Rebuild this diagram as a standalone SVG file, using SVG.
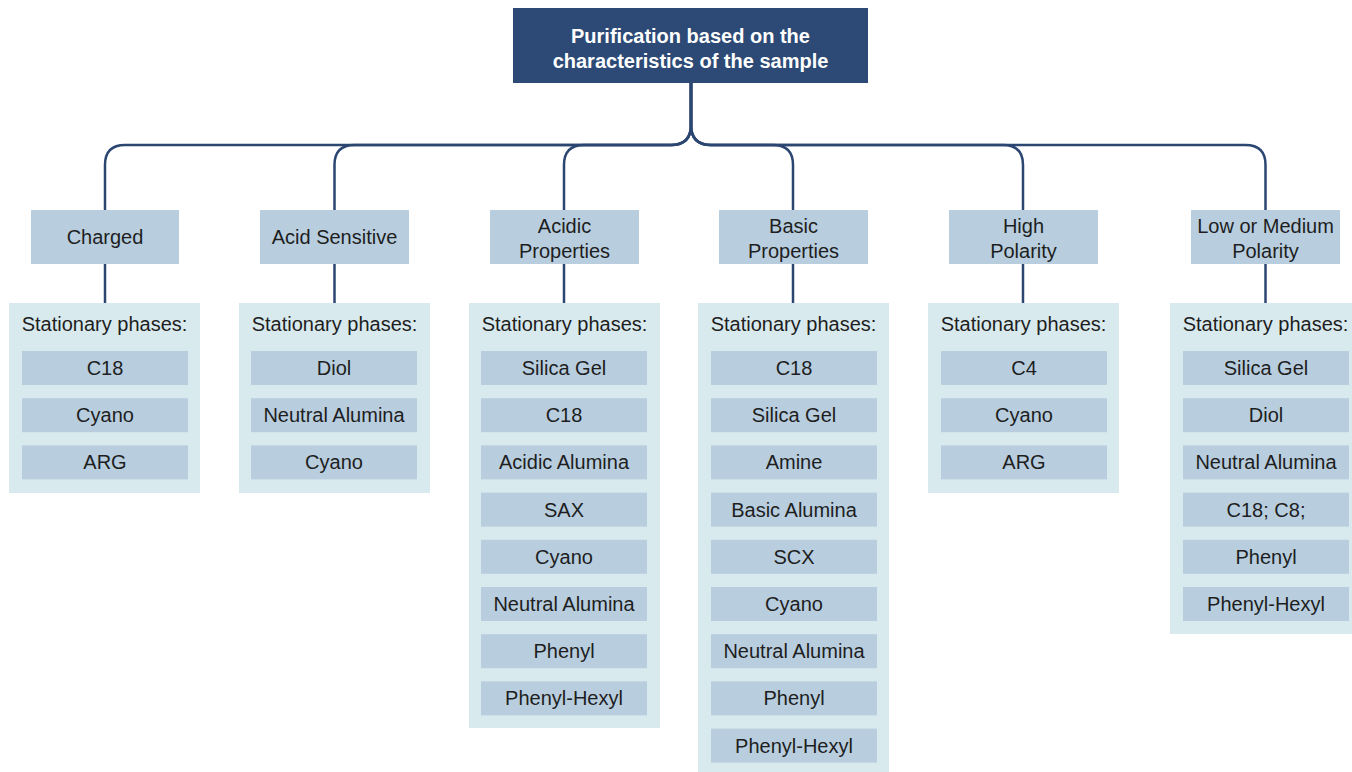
<svg xmlns="http://www.w3.org/2000/svg" width="1352" height="772" viewBox="0 0 1352 772">
<style>
.top{fill:#2c4a75}
.cat{fill:#b8cedf}
.panel{fill:#d9eaee}
.item{fill:#b8cedf}
text{font-family:"Liberation Sans",Arial,sans-serif;font-size:20px;fill:#1e1e1e;text-anchor:middle}
.tt{fill:#ffffff;font-weight:bold}
.conn path{fill:none;stroke:#2c4672;stroke-width:2.5}
</style>
<rect width="1352" height="772" fill="#ffffff"/>
<g class="conn" id="connectors">
<path d="M691 83 V125 Q691 145 671 145 H125 Q105 145 105 165 V210"/>
<path d="M691 83 V125 Q691 145 671 145 H354.5 Q334.5 145 334.5 165 V210"/>
<path d="M691 83 V125 Q691 145 671 145 H584 Q564 145 564 165 V210"/>
<path d="M691 83 V125 Q691 145 711 145 H773 Q793 145 793 165 V210"/>
<path d="M691 83 V125 Q691 145 711 145 H1003 Q1023 145 1023 165 V210"/>
<path d="M691 83 V125 Q691 145 711 145 H1245.5 Q1265.5 145 1265.5 165 V210"/>
<path d="M105 264 V303"/>
<path d="M334.5 264 V303"/>
<path d="M564 264 V303"/>
<path d="M793 264 V303"/>
<path d="M1023 264 V303"/>
<path d="M1265.5 264 V303"/>
</g>
<g id="root">
<rect class="top" x="513" y="8" width="355" height="75"/>
<text class="tt" x="690.5" y="43">Purification based on the</text>
<text class="tt" x="690.5" y="68">characteristics of the sample</text>
</g>
<g id="charged">
<rect class="cat" x="31" y="210" width="148" height="54"/>
<text x="105" y="244">Charged</text>
</g>
<g id="charged-phases">
<rect class="panel" x="9" y="303" width="191" height="190"/>
<text x="104.5" y="331">Stationary phases:</text>
<rect class="item" x="22" y="351" width="166" height="34"/><text x="105" y="375">C18</text>
<rect class="item" x="22" y="398.2" width="166" height="34"/><text x="105" y="422.2">Cyano</text>
<rect class="item" x="22" y="445.4" width="166" height="34"/><text x="105" y="469.4">ARG</text>
</g>
<g id="acid-sensitive">
<rect class="cat" x="260" y="210" width="149" height="54"/>
<text x="334.5" y="244">Acid Sensitive</text>
</g>
<g id="acid-sensitive-phases">
<rect class="panel" x="239" y="303" width="191" height="190"/>
<text x="334.5" y="331">Stationary phases:</text>
<rect class="item" x="251" y="351" width="166" height="34"/><text x="334" y="375">Diol</text>
<rect class="item" x="251" y="398.2" width="166" height="34"/><text x="334" y="422.2">Neutral Alumina</text>
<rect class="item" x="251" y="445.4" width="166" height="34"/><text x="334" y="469.4">Cyano</text>
</g>
<g id="acidic">
<rect class="cat" x="490" y="210" width="149" height="54"/>
<text x="564.5" y="233">Acidic</text>
<text x="564.5" y="258">Properties</text>
</g>
<g id="acidic-phases">
<rect class="panel" x="469" y="303" width="191" height="425"/>
<text x="564.5" y="331">Stationary phases:</text>
<rect class="item" x="481" y="351" width="166" height="34"/><text x="564" y="375">Silica Gel</text>
<rect class="item" x="481" y="398.2" width="166" height="34"/><text x="564" y="422.2">C18</text>
<rect class="item" x="481" y="445.4" width="166" height="34"/><text x="564" y="469.4">Acidic Alumina</text>
<rect class="item" x="481" y="492.6" width="166" height="34"/><text x="564" y="516.6">SAX</text>
<rect class="item" x="481" y="539.8" width="166" height="34"/><text x="564" y="563.8">Cyano</text>
<rect class="item" x="481" y="587" width="166" height="34"/><text x="564" y="611">Neutral Alumina</text>
<rect class="item" x="481" y="634.2" width="166" height="34"/><text x="564" y="658.2">Phenyl</text>
<rect class="item" x="481" y="681.4" width="166" height="34"/><text x="564" y="705.4">Phenyl-Hexyl</text>
</g>
<g id="basic">
<rect class="cat" x="719" y="210" width="149" height="54"/>
<text x="793.5" y="233">Basic</text>
<text x="793.5" y="258">Properties</text>
</g>
<g id="basic-phases">
<rect class="panel" x="698" y="303" width="191" height="472"/>
<text x="793.5" y="331">Stationary phases:</text>
<rect class="item" x="711" y="351" width="166" height="34"/><text x="794" y="375">C18</text>
<rect class="item" x="711" y="398.2" width="166" height="34"/><text x="794" y="422.2">Silica Gel</text>
<rect class="item" x="711" y="445.4" width="166" height="34"/><text x="794" y="469.4">Amine</text>
<rect class="item" x="711" y="492.6" width="166" height="34"/><text x="794" y="516.6">Basic Alumina</text>
<rect class="item" x="711" y="539.8" width="166" height="34"/><text x="794" y="563.8">SCX</text>
<rect class="item" x="711" y="587" width="166" height="34"/><text x="794" y="611">Cyano</text>
<rect class="item" x="711" y="634.2" width="166" height="34"/><text x="794" y="658.2">Neutral Alumina</text>
<rect class="item" x="711" y="681.4" width="166" height="34"/><text x="794" y="705.4">Phenyl</text>
<rect class="item" x="711" y="728.6" width="166" height="34"/><text x="794" y="752.6">Phenyl-Hexyl</text>
</g>
<g id="high-polarity">
<rect class="cat" x="949" y="210" width="149" height="54"/>
<text x="1023.5" y="233">High</text>
<text x="1023.5" y="258">Polarity</text>
</g>
<g id="high-polarity-phases">
<rect class="panel" x="928" y="303" width="191" height="190"/>
<text x="1023.5" y="331">Stationary phases:</text>
<rect class="item" x="941" y="351" width="166" height="34"/><text x="1024" y="375">C4</text>
<rect class="item" x="941" y="398.2" width="166" height="34"/><text x="1024" y="422.2">Cyano</text>
<rect class="item" x="941" y="445.4" width="166" height="34"/><text x="1024" y="469.4">ARG</text>
</g>
<g id="low-polarity">
<rect class="cat" x="1191" y="210" width="149" height="54"/>
<text x="1265.5" y="233">Low or Medium</text>
<text x="1265.5" y="258">Polarity</text>
</g>
<g id="low-polarity-phases">
<rect class="panel" x="1170" y="303" width="191" height="331"/>
<text x="1265.5" y="331">Stationary phases:</text>
<rect class="item" x="1183" y="351" width="166" height="34"/><text x="1266" y="375">Silica Gel</text>
<rect class="item" x="1183" y="398.2" width="166" height="34"/><text x="1266" y="422.2">Diol</text>
<rect class="item" x="1183" y="445.4" width="166" height="34"/><text x="1266" y="469.4">Neutral Alumina</text>
<rect class="item" x="1183" y="492.6" width="166" height="34"/><text x="1266" y="516.6">C18; C8;</text>
<rect class="item" x="1183" y="539.8" width="166" height="34"/><text x="1266" y="563.8">Phenyl</text>
<rect class="item" x="1183" y="587" width="166" height="34"/><text x="1266" y="611">Phenyl-Hexyl</text>
</g>
</svg>
